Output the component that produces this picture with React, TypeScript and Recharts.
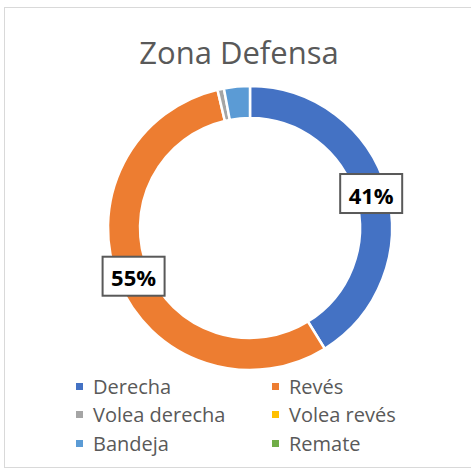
import React from "react";
import { PieChart, Pie, Cell, Legend } from "recharts";

const categories = ["Derecha", "Revés", "Volea derecha", "Volea revés", "Bandeja", "Remate"];
const values = [56, 75, 1, 0, 4, 0];
const colors = ["#4472C4", "#ED7D31", "#A5A5A5", "#FFC000", "#5B9BD5", "#70AD47"];
const title = "Zona Defensa";

const data = categories.map((name, i) => ({ name, value: values[i] }));

const FONT = "'Open Sans', 'Noto Sans', sans-serif";
const RAD = Math.PI / 180;

const renderLabel = (props: any) => {
  const { cx, cy, midAngle, innerRadius, outerRadius, percent } = props;
  if (percent < 0.1) return null;
  const r = (innerRadius + outerRadius) / 2;
  const x = cx + r * Math.cos(-midAngle * RAD);
  const y = cy + r * Math.sin(-midAngle * RAD);
  const w = 62;
  const h = 39;
  return (
    <g>
      <rect x={x - w / 2} y={y - h / 2} width={w} height={h} fill="#ffffff" stroke="#595959" strokeWidth={2} />
      <text
        x={x}
        y={y + 1}
        textAnchor="middle"
        dominantBaseline="central"
        fontFamily={FONT}
        fontWeight={700}
        fontSize={22}
        fill="#000000"
      >
        {`${Math.round(percent * 100)}%`}
      </text>
    </g>
  );
};

const renderLegend = () => {
  return (
    <div
      style={{
        display: "grid",
        gridTemplateColumns: "196px 190px",
        fontFamily: FONT,
        fontSize: 20,
        color: "#595959",
      }}
    >
      {categories.map((name, i) => (
        <div key={name} style={{ display: "flex", alignItems: "center", height: 28.5, whiteSpace: "nowrap" }}>
          <span
            style={{
              display: "inline-block",
              width: 7,
              height: 7,
              background: colors[i],
              marginRight: 10,
              flex: "none",
            }}
          />
          <span>{name}</span>
        </div>
      ))}
    </div>
  );
};

export default function App() {
  return (
    <div style={{ position: "absolute", left: 0, top: 0, width: 471, height: 470, background: "#fff" }}>
      <div
        style={{
          position: "absolute",
          left: 4,
          top: 7,
          width: 480,
          height: 461,
          border: "1.5px solid #d9d9d9",
          boxSizing: "border-box",
        }}
      />
      <div
        style={{
          position: "absolute",
          left: 0,
          top: 30,
          width: 478,
          textAlign: "center",
          fontFamily: FONT,
          fontSize: 31,
          color: "#595959",
          lineHeight: "44px",
        }}
      >
        {title}
      </div>
      <div style={{ position: "absolute", left: 0, top: 0 }}>
        <PieChart width={471} height={470}>
          <Pie
            data={data}
            dataKey="value"
            nameKey="name"
            cx={245}
            cy={223}
            innerRadius={110}
            outerRadius={142}
            startAngle={90}
            endAngle={-270}
            stroke="#ffffff"
            strokeWidth={2.5}
            label={renderLabel}
            labelLine={false}
            isAnimationActive={false}
          >
            {data.map((d, i) => (
              <Cell key={d.name} fill={colors[i]} />
            ))}
          </Pie>
          <Legend
            content={renderLegend}
            layout="vertical"
            wrapperStyle={{ position: "absolute", left: 76, top: 372, width: 395 }}
          />
        </PieChart>
      </div>
    </div>
  );
}
